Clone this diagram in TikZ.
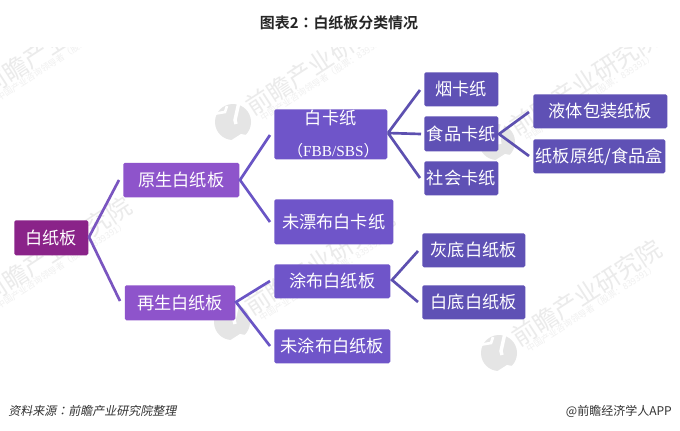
\documentclass[tikz,border=0pt]{standalone}
\usepackage{fontspec}
\setmainfont{Liberation Serif}
\newfontfamily\cjk{Noto Sans CJK SC}
\newfontfamily\cjkb{Noto Sans CJK SC Bold}
\newfontfamily\cjktb{Noto Sans CJK TC Bold}
\newfontfamily\cjkt[FakeSlant=0.2]{Noto Sans CJK TC}
\newfontfamily\cjks[FakeSlant=0.2]{Noto Sans CJK SC}
\usetikzlibrary{calc}
\definecolor{cA}{HTML}{8A2389}
\definecolor{cB}{HTML}{8E54CB}
\definecolor{cC}{HTML}{6F55C9}
\definecolor{cD}{HTML}{5F51B5}
\definecolor{lA}{HTML}{7A55C0}
\definecolor{lB}{HTML}{6A55C5}
\definecolor{lC}{HTML}{5D50B0}
\tikzset{
  bx/.style={rounded corners=1.2pt,text=white,font=\cjk\fontsize{12.9}{15.5}\selectfont,inner sep=0pt,align=center,anchor=north west},
  lnk/.style={line width=2pt},
  wm/.style={text=black!8,font=\cjk\fontsize{18.5}{20}\selectfont,rotate=33,inner sep=0pt,anchor=west},
  wms/.style={text=black!6,font=\cjk\fontsize{6.6}{7}\selectfont,rotate=33,inner sep=0pt,anchor=west},
}
\newcommand{\bxnode}[7]{% name, x0, y0, x1, y1, colour, text
  \node[bx,fill=#6,minimum width=\fpeval{(#4-#2)*0.75}pt,minimum height=\fpeval{(#5-#3)*0.75}pt] (#1) at (#2,-#3) {#7};}
\newcommand{\wmark}[2]{% logo centre
  \fill[black!10] (#1,-#2) circle (18);
  \draw[white,line width=2.6pt] (#1+6,-#2+20) -- (#1+2,-#2+2) -- (#1+3,-#2-2);
  \draw[white,line width=2pt] (#1-20,-#2+8) -- (#1-8,-#2+10) -- (#1-6,-#2+16);
  \fill[white] (#1-3,-#2-19) -- (#1+19,-#2-19) -- (#1+19,-#2-14) -- (#1+8,-#2-12) -- cycle;
  \node[wm] (wt#1x#2) at (#1+15,-#2+13) {前瞻产业研究院};
  \node[wms] (ws#1x#2) at (#1+28,-#2+3) {中国产业咨询领导者（股票：839391）};
}
\begin{document}
\begin{tikzpicture}[x=0.75pt,y=0.75pt]
\useasboundingbox (0,-430) rectangle (680,0);
\fill[white] (0,-430) rectangle (680,0);
% watermarks
\begin{scope}
\clip (0,-430) rectangle (680,-47);
\wmark{-31}{102}
\wmark{-31}{310}
\wmark{233}{122}
\wmark{232}{322}
\wmark{497}{142}
\wmark{499}{353}
\end{scope}
% title
\node[font=\cjkb\fontsize{11.2}{13}\selectfont,text=black!85,inner sep=0pt] (title) at (339,-23) {图表2{\cjktb ：}白纸板分类情况};
% boxes
\bxnode{root}{14}{220}{88}{255}{cA}{白纸板}
\bxnode{yuan}{123}{162.5}{239}{197}{cB}{原生白纸板}
\bxnode{zai}{124.5}{285}{235}{320}{cB}{再生白纸板}
\bxnode{bk}{274}{109}{387}{159}{cC}{\raisebox{2pt}{白卡纸}\\[6.5pt]{\fontsize{11.5}{15.5}\selectfont\kern4pt（{\rmfamily FBB/SBS}）}}
\bxnode{wp}{274}{199}{393}{244}{cC}{未漂布白卡纸}
\bxnode{tb}{274}{264}{390}{298}{cC}{涂布白纸板}
\bxnode{wt}{274}{329}{390}{363}{cC}{未涂布白纸板}
\bxnode{yan}{424}{72}{498}{106}{cD}{烟卡纸}
\bxnode{sp}{424}{116}{498}{151}{cD}{食品卡纸}
\bxnode{sh}{424}{161}{498}{195}{cD}{社会卡纸}
\bxnode{yt}{533}{94}{667}{128}{cD}{液体包装纸板}
\bxnode{zb}{533}{139}{665}{173}{cD}{纸板原纸/食品盒}
\bxnode{hd}{422}{233}{525}{267}{cD}{灰底白纸板}
\bxnode{bd}{422}{285}{525}{319}{cD}{白底白纸板}
% free ends
\coordinate (a1) at (89,-237);
\coordinate (a2) at (240,-180);
\coordinate (a3) at (236,-302);
\coordinate (a4) at (388,-133);
\coordinate (a5) at (499,-134);
\coordinate (a6) at (392,-280);
\coordinate (e1) at (119,-180);
\coordinate (e2) at (120,-301);
\coordinate (e3) at (270,-135);
\coordinate (e4) at (270,-222);
\coordinate (e5) at (270,-281);
\coordinate (e6) at (270,-346);
\coordinate (e7) at (420,-90);
\coordinate (e8) at (421,-134);
\coordinate (e9) at (420,-178);
\coordinate (e10) at (529,-112);
\coordinate (e11) at (529,-156);
\coordinate (e12) at (418,-251);
\coordinate (e13) at (418,-302);
% connectors
\draw[lnk,draw=lA] (e1) -- (a1) -- (e2);
\draw[lnk,draw=lB] (e3) -- (a2) -- (e4);
\draw[lnk,draw=lB] (e5) -- (a3) -- (e6);
\draw[lnk,draw=lC] (e7) -- (a4) (e8) -- (a4) (e9) -- (a4);
\draw[lnk,draw=lC] (e10) -- (a5) -- (e11);
\draw[lnk,draw=lC] (e12) -- (a6) -- (e13);
% footer
\node[font=\cjks\fontsize{9}{11}\selectfont,text=black!80,inner sep=0pt,anchor=west] (src) at (8,-411) {资料来源{\cjkt ：}前瞻产业研究院整理};
\node[font=\cjk\fontsize{9}{11}\selectfont,text=black!80,inner sep=0pt,anchor=east] (app) at (672,-411) {@前瞻经济学人APP};
\end{tikzpicture}
\end{document}
